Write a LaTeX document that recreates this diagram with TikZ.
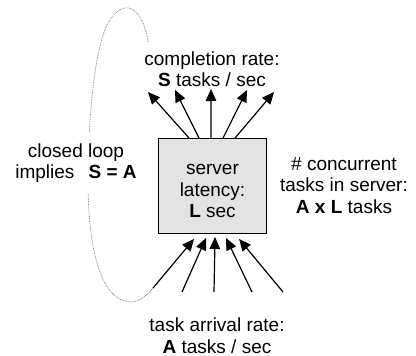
\documentclass[tikz,border=0pt]{standalone}
\usepackage{fontspec}
\setmainfont{Liberation Sans}
\usetikzlibrary{arrows.meta}
\begin{document}
\begin{tikzpicture}[x=1pt,y=-1pt,
  lbl/.style={font=\fontsize{19}{21.5}\selectfont, align=center, inner sep=0pt},
  flow/.style={line width=1.2pt, -{Triangle[length=12pt,width=10.5pt]}},
  loopline/.style={densely dotted, line width=0.7pt, black!60}]
\useasboundingbox (0,0) rectangle (416,356);
% dotted loop
\draw[loopline] (153,288) .. controls (146,296) and (140,302) .. (130,302)
  .. controls (98,300) and (88,240) .. (88,180)
  .. controls (88,120) and (95,40) .. (110,20)
  .. controls (118,8) and (128,4) .. (136,12)
  .. controls (143,20) and (147,32) .. (148,42);
% server box
\node[draw, line width=0.9pt, fill=black!11, minimum width=108pt, minimum height=95pt, inner sep=0pt] (box) at (212.5,186) {};
\node[lbl] (boxtxt) at (212.5,191.2) {server\\latency:\\\textbf{L} sec};
% labels
\node[lbl] (top) at (212,69) {completion rate:\\\textbf{S} tasks / sec};
\node[lbl, fill=white, inner xsep=4pt, inner ysep=10pt] (left) at (76,163) {closed loop\\implies\hspace{0.75em}\textbf{S = A}};
\node[lbl] (right) at (344,185.4) {\# concurrent\\tasks in server:\\\textbf{A x L} tasks};
\node[lbl] (bottom) at (217,335.5) {task arrival rate:\\\textbf{A} tasks / sec};
% top arrows
\coordinate (s1) at ([xshift=31pt]box.north west);
\coordinate (s2) at ([xshift=41pt]box.north west);
\coordinate (s3) at ([xshift=53pt]box.north west);
\coordinate (s4) at ([xshift=65pt]box.north west);
\coordinate (s5) at ([xshift=77pt]box.north west);
\coordinate (t1) at (148,92);
\coordinate (t2) at (175,90);
\coordinate (t3) at (211,89);
\coordinate (t4) at (247,90);
\coordinate (t5) at (274,92);
\foreach \i in {1,...,5} \draw[flow] (s\i) -- (t\i);
% bottom arrows
\coordinate (e1) at ([xshift=36pt,yshift=-5pt]box.south west);
\coordinate (e2) at ([xshift=48pt,yshift=-4pt]box.south west);
\coordinate (e3) at ([xshift=57pt,yshift=-3pt]box.south west);
\coordinate (e4) at ([xshift=68pt,yshift=-4pt]box.south west);
\coordinate (e5) at ([xshift=81pt,yshift=-5pt]box.south west);
\coordinate (b1) at (153,288);
\coordinate (b2) at (182,292);
\coordinate (b3) at (214,292);
\coordinate (b4) at (252,292);
\coordinate (b5) at (283,292);
\foreach \i in {1,...,5} \draw[flow] (b\i) -- (e\i);
\end{tikzpicture}
\end{document}
